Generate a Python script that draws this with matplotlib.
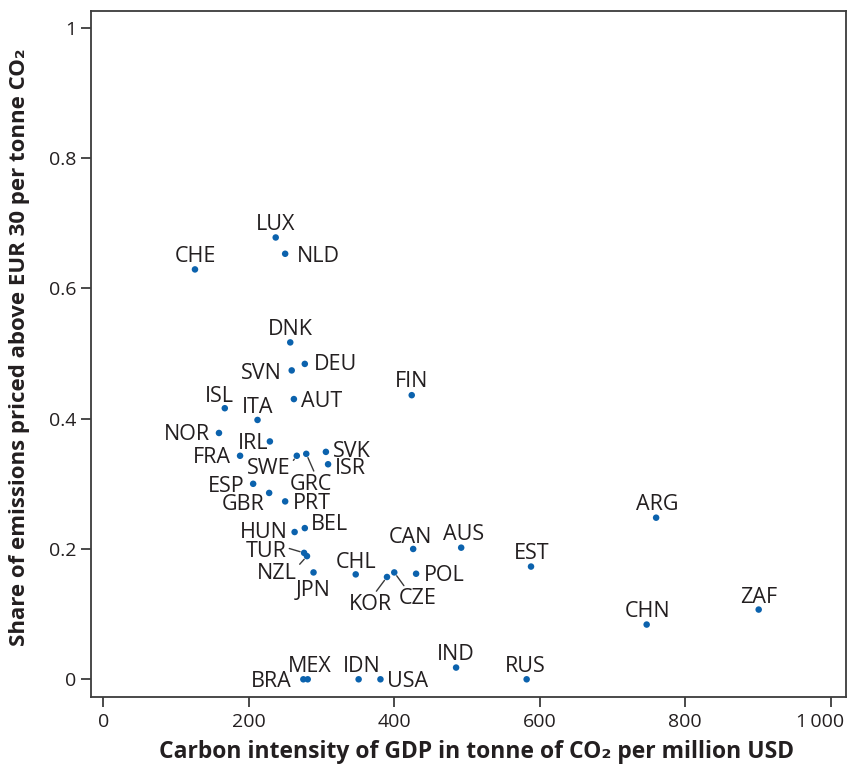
import matplotlib
matplotlib.use("Agg")
import matplotlib.pyplot as plt
import matplotlib.transforms as mtransforms

# Country codes, carbon intensity of GDP (t CO2 per million USD)
# and share of emissions priced above EUR 30 per tonne CO2
countries = ["LUX", "NLD", "CHE", "DNK", "DEU", "SVN", "AUT", "ISL", "ITA", "NOR",
             "IRL", "FRA", "SWE", "GRC", "SVK", "ISR", "ESP", "GBR", "PRT", "HUN",
             "BEL", "TUR", "NZL", "JPN", "CHL", "KOR", "CZE", "POL", "CAN", "AUS",
             "FIN", "EST", "ARG", "CHN", "ZAF", "IND", "RUS", "USA", "IDN", "MEX", "BRA"]
carbon_intensity = [237, 250, 126, 257, 277, 259, 262, 167, 212, 159,
                    229, 188, 266, 279, 306, 309, 206, 228, 250, 263,
                    277, 276, 280, 289, 347, 390, 400, 430, 426, 492,
                    424, 588, 760, 747, 901, 485, 582, 381, 351, 281, 275]
share_priced = [0.678, 0.653, 0.629, 0.517, 0.484, 0.474, 0.430, 0.416, 0.398, 0.378,
                0.365, 0.343, 0.343, 0.346, 0.349, 0.330, 0.300, 0.286, 0.273, 0.226,
                0.232, 0.194, 0.189, 0.164, 0.161, 0.157, 0.164, 0.162, 0.200, 0.202,
                0.436, 0.173, 0.248, 0.084, 0.107, 0.018, 0.0, 0.0, 0.0, 0.0, 0.0]

x_ticks = [0, 200, 400, 600, 800, 1000]
x_tick_labels = ["0", "200", "400", "600", "800", "1\u2009000"]
y_ticks = [0, 0.2, 0.4, 0.6, 0.8, 1.0]
y_tick_labels = ["0", "0.2", "0.4", "0.6", "0.8", "1"]

# Label placement: offset of the label centre from its point, in pixels
# (x to the right, y upwards), plus the anchor of an optional leader line
label_offsets = {
    "LUX": (0, 15), "NLD": (33, 0), "CHE": (0, 15), "DNK": (0, 15.5),
    "DEU": (31, 2), "SVN": (-30, -1), "AUT": (28, 0), "ISL": (-5, 14.5),
    "ITA": (0, 14.5), "NOR": (-32, 0.5), "IRL": (-17, 0), "FRA": (-28.5, 0.5),
    "SWE": (-28, -10), "GRC": (4.5, -28), "SVK": (26, 2.5), "ISR": (22, -1.5),
    "ESP": (-26.5, -0.5), "GBR": (-26, -9), "PRT": (27, 0), "HUN": (-31, 2),
    "BEL": (25, 6), "TUR": (-38, 3.5), "NZL": (-30, -15), "JPN": (0, -15.5),
    "CHL": (0, 14.5), "KOR": (-17, -25), "CZE": (23, -24), "POL": (28.5, 0.5),
    "CAN": (-2.5, 14), "AUS": (2, 15.5), "FIN": (0, 16.5), "EST": (1, 15.5),
    "ARG": (1, 15.5), "CHN": (1, 16), "ZAF": (0, 14.5), "IND": (0, 16),
    "RUS": (-1.5, 15), "USA": (27.5, 0), "IDN": (3.5, 15), "MEX": (2.5, 15),
    "BRA": (-32, 0),
}
leaders = {"SWE": (1.0, 0.7), "GRC": (0.6, 1.0), "TUR": (1.0, 0.7),
           "NZL": (1.0, 0.8), "KOR": (0.6, 1.0), "CZE": (0.2, 1.0)}

text_color = "#231f20"
dot_color = "#0b62ad"
label_font = ["Open Sans", "DejaVu Sans"]

fig = plt.figure(figsize=(8.48, 7.70), dpi=100)
ax = fig.add_axes([0.107, 0.0952, 0.8906, 0.8909])

ax.scatter(carbon_intensity, share_priced, s=22, color=dot_color,
           edgecolors="none", zorder=3)

for name, cx, sy in zip(countries, carbon_intensity, share_priced):
    dx, dy = label_offsets[name]
    arrow = None
    if name in leaders:
        arrow = dict(arrowstyle="-", color="#3a3a3a", lw=1.0,
                     shrinkA=0, shrinkB=3, relpos=leaders[name])
    ax.annotate(name, (cx, sy), xytext=(dx, dy), textcoords="offset pixels",
                ha="center", va="center_baseline", fontsize=15.5,
                family=label_font, color=text_color, arrowprops=arrow, zorder=4)

ax.set_xlim(-17.3, 1021)
ax.set_ylim(-0.0267, 1.026)
ax.set_xticks(x_ticks)
ax.set_xticklabels(x_tick_labels)
ax.set_yticks(y_ticks)
ax.set_yticklabels(y_tick_labels)

for spine in ax.spines.values():
    spine.set_color("#3c3c3c")
    spine.set_linewidth(1.3)
ax.tick_params(axis="both", direction="out", length=7.5, width=1.3,
               color="#3c3c3c", labelsize=14, labelcolor=text_color, pad=4)
ax.tick_params(axis="y", pad=3)
for lab in ax.get_xticklabels() + ax.get_yticklabels():
    lab.set_family(label_font)

# nudge the last x tick label left so it stays inside the figure
last = ax.get_xticklabels()[-1]
last.set_transform(last.get_transform() +
                   mtransforms.ScaledTranslation(-11 / 100, 0, fig.dpi_scale_trans))

fig.text(477 / 848, 1 - 752 / 770,
         "Carbon intensity of GDP in tonne of CO\u2082 per million USD",
         ha="center", va="center", fontsize=16.5, fontweight="bold",
         family=label_font, color=text_color)
fig.text(20 / 848, 1 - 347 / 770,
         "Share of emissions priced above EUR 30 per tonne CO\u2082",
         ha="center", va="center", rotation=90, fontsize=16,
         fontweight="bold", family=label_font, color=text_color)

fig.savefig("out.png", dpi=100)
